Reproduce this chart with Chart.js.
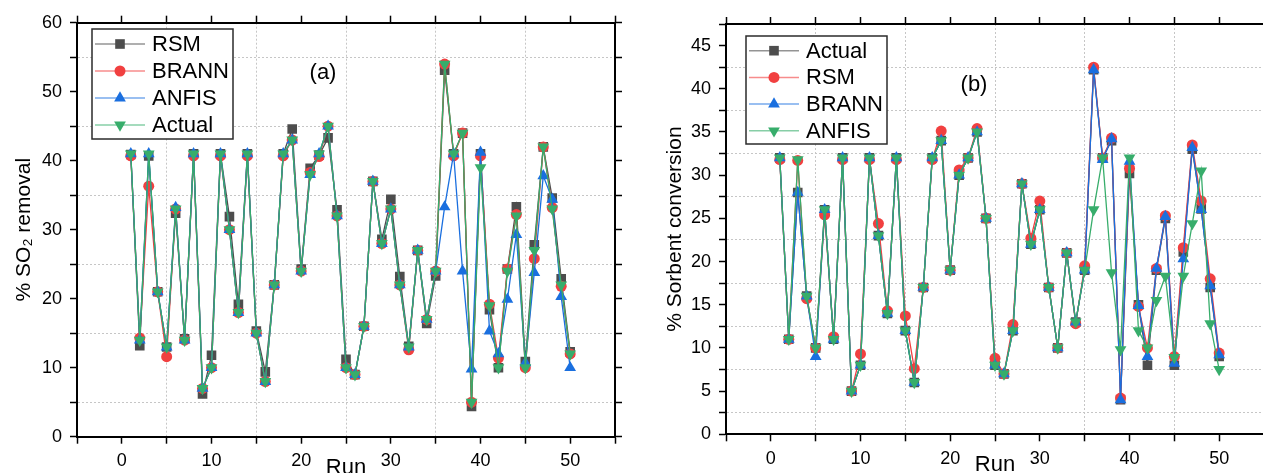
<!DOCTYPE html>
<html>
<head>
<meta charset="utf-8">
<script src="https://cdn.jsdelivr.net/npm/chart.js@4.4.0/dist/chart.umd.min.js"></script>
<style>
  html, body { margin: 0; padding: 0; background: #fff; overflow: hidden; width: 1263px; height: 473px; }
  canvas { position: absolute; top: 0; }
</style>
</head>
<body>
<canvas id="chartA" width="640" height="490" style="left:0"></canvas>
<canvas id="chartB" width="640" height="490" style="left:640px"></canvas>
<script>
const runs = [1, 2, 3, 4, 5, 6, 7, 8, 9, 10, 11, 12, 13, 14, 15, 16, 17, 18, 19, 20,
    21, 22, 23, 24, 25, 26, 27, 28, 29, 30, 31, 32, 33, 34, 35, 36, 37, 38, 39, 40,
    41, 42, 43, 44, 45, 46, 47, 48, 49, 50];

// (a) % SO2 removal
const rsmA = [40.9, 13.2, 40.7, 21, 13, 32.4, 14.2, 41, 6.2, 11.8, 41, 31.9, 19.2, 41, 15.3, 9.4, 22, 41, 44.6, 24.3,
    38.9, 40.8, 43.3, 32.9, 11.2, 9, 16, 37, 28.6, 34.4, 23.2, 13.1, 27, 16.4, 23.3, 53.1, 41, 44, 4.4, 41,
    18.4, 10, 24.3, 33.3, 10.9, 27.8, 42, 34.6, 22.9, 12.3];
const brannA = [40.7, 14.3, 36.3, 21, 11.6, 33, 14, 40.7, 7, 10, 40.7, 30, 18, 40.7, 15, 8, 22, 40.7, 43, 24,
    38.3, 40.6, 45, 32, 10, 9, 16, 37, 28, 33, 22, 12.6, 27, 17, 24, 54, 40.7, 44, 5, 40.7,
    19.2, 11.4, 24.3, 32.2, 10, 25.8, 42, 33.2, 21.8, 12];
const anfisA = [41, 14, 41, 21, 13, 33.2, 14, 41, 7, 10, 41, 30, 18, 41, 15, 8, 22, 41, 43, 24,
    38, 41, 45, 32, 10, 9, 16, 37, 28, 33, 22, 13, 27, 17, 24, 33.3, 41, 24, 9.8, 41.2,
    15.3, 12, 19.9, 29.3, 10.7, 23.8, 37.8, 34.4, 20.3, 10];
const actualA = [41, 14, 41, 21, 13, 33, 14, 41, 7, 10, 41, 30, 18, 41, 15, 8, 22, 41, 43, 24,
    38, 41, 45, 32, 10, 9, 16, 37, 28, 33, 22, 13, 27, 17, 24, 54, 41, 44, 5, 39,
    19, 10, 24, 32, 10, 27, 42, 33, 22, 12];

// (b) % Sorbent conversion
const actualB = [32, 11, 28, 16, 10, 26, 11, 32, 5, 8, 32, 23, 14, 32, 12, 6, 17, 32, 34, 19,
    30, 32, 35, 25, 8, 7, 12, 29, 22, 26, 17, 10, 21, 13, 19, 42.2, 32, 34, 4, 30.2,
    15, 8, 19, 25, 8, 21.1, 33, 26.1, 17, 9];
const rsmB = [31.8, 11, 31.7, 15.7, 10, 25.4, 11.3, 31.8, 5, 9.3, 31.8, 24.4, 14.3, 31.8, 13.7, 7.6, 17, 31.8, 35.1, 19,
    30.6, 32, 35.4, 25, 8.8, 7, 12.7, 29, 22.7, 27, 17, 10, 21, 12.8, 19.5, 42.5, 32, 34.3, 4.2, 30.8,
    14.8, 10, 19.2, 25.3, 9, 21.6, 33.5, 27, 18, 9.4];
const brannB = [32, 11, 28, 16, 9, 26, 11, 32, 5, 8, 32, 23, 14, 32, 12, 6, 17, 32, 34, 19,
    30, 32, 35, 25, 8, 7, 12, 29, 22, 26, 17, 10, 21, 13, 19, 42.2, 31.8, 34.2, 4, 31.6,
    14.9, 9, 19.2, 25.2, 8.2, 20.3, 33.2, 26, 17.2, 9.2];
const anfisB = [32, 11, 31.8, 16, 10, 26, 11, 32, 5, 8, 32, 23, 14, 32, 12, 6, 17, 32, 34, 19,
    30, 32, 35, 25, 8, 7, 12, 29, 22, 26, 17, 10, 21, 13, 19, 26, 32, 18.7, 9.8, 32,
    12, 10, 15.5, 18.3, 8.9, 18.3, 24.4, 30.5, 12.8, 7.5];

const FONT = "'Liberation Sans', Arial, sans-serif";
Chart.defaults.font.family = FONT;
Chart.defaults.color = '#000';

// gray square, red circle, blue triangle, green down-triangle (legend order = draw order)
const markers = [
    { color: '#4d4d4d', style: 'rect', radius: 6.8, rotation: 0 },
    { color: '#f14040', style: 'circle', radius: 5.5, rotation: 0 },
    { color: '#1a6fdf', style: 'triangle', radius: 6.8, rotation: 0 },
    { color: '#37ad6b', style: 'triangle', radius: 6.8, rotation: 180 }
];

function makeDataset(label, data, i) {
    const m = markers[i];
    return {
        label, data,
        borderColor: m.color, backgroundColor: m.color,
        pointBackgroundColor: m.color, pointBorderColor: m.color, pointBorderWidth: 0,
        pointStyle: m.style, pointRadius: m.radius, pointRotation: m.rotation,
        borderWidth: 1.3, tension: 0, order: 4 - i
    };
}

function isMinor(v, major, min, max) {
    return v > min && v < max && Math.abs(v / major - Math.round(v / major)) > 1e-6;
}

function axis(pos, min, max, step, major, size, main, title) {
    const horizontal = pos === 'top' || pos === 'bottom';
    return {
        type: 'linear', position: pos, min, max,
        ticks: {
            stepSize: step, autoSkip: false, maxRotation: 0, display: main,
            color: '#000', font: { size: 18 }, padding: horizontal ? 7 : 8,
            callback: v => (Math.abs(v / major - Math.round(v / major)) < 1e-6 ? String(v) : '')
        },
        grid: {
            drawOnChartArea: main,
            color: c => (c.tick && isMinor(c.tick.value, major, min, max) ? '#c6c6c6' : 'rgba(0,0,0,0)'),
            lineWidth: 1, tickColor: '#000', tickLength: 7, tickWidth: 1.5
        },
        border: { color: '#000', width: 2, dash: [2, 2] },
        title: title || { display: false },
        afterFit: s => { if (horizontal) s.height = size; else s.width = size; }
    };
}

const boxLegend = {
    id: 'boxLegend',
    afterDraw(chart, args, opts) {
        const ctx = chart.ctx;
        const b = opts.box;
        ctx.save();
        ctx.fillStyle = '#fff';
        ctx.fillRect(b.x, b.y, b.w, b.h);
        ctx.strokeStyle = '#2b2b2b';
        ctx.lineWidth = 1.5;
        ctx.strokeRect(b.x, b.y, b.w, b.h);
        chart.data.datasets.forEach((ds, i) => {
            const y = b.y + b.first + i * b.step;
            ctx.globalAlpha = 0.6;
            ctx.strokeStyle = ds.borderColor;
            ctx.lineWidth = 1.5;
            ctx.beginPath();
            ctx.moveTo(b.x + 3, y);
            ctx.lineTo(b.x + 53, y);
            ctx.stroke();
            ctx.globalAlpha = 1;
            ctx.fillStyle = ds.pointBackgroundColor;
            ctx.strokeStyle = ds.pointBackgroundColor;
            Chart.helpers.drawPoint(ctx, {
                pointStyle: ds.pointStyle, radius: ds.pointRadius,
                rotation: ds.pointRotation, borderWidth: 0
            }, b.x + 28, y);
            ctx.fillStyle = '#000';
            ctx.font = '22px ' + FONT;
            ctx.textAlign = 'left';
            ctx.textBaseline = 'middle';
            ctx.fillText(ds.label, b.x + 60, y + 1);
        });
        ctx.font = '22px ' + FONT;
        ctx.textAlign = 'center';
        ctx.textBaseline = 'middle';
        ctx.fillStyle = '#000';
        ctx.fillText(opts.tag, opts.tagX, opts.tagY);
        ctx.restore();
    }
};

function makeChart(id, names, series, yMax, yStep, yMajor, yTitle, geo) {
    return new Chart(document.getElementById(id), {
        type: 'line',
        data: {
            labels: runs,
            datasets: names.map((n, i) => makeDataset(n, series[i], i))
        },
        options: {
            responsive: false,
            animation: false,
            devicePixelRatio: 1,
            layout: { padding: 0 },
            plugins: {
                legend: { display: false },
                tooltip: { enabled: false },
                boxLegend: geo.legend
            },
            scales: {
                x: axis('bottom', -5, 55, 5, 10, geo.bottom, true, {
                    display: true, text: 'Run', color: '#000',
                    font: { size: 22 }, padding: { top: 0, bottom: geo.runPad }
                }),
                x2: axis('top', -5, 55, 5, 10, geo.top, false),
                y: axis('left', 0, yMax, yStep, yMajor, geo.left, true, {
                    display: true, text: yTitle, color: '#000',
                    font: { size: 21 }, padding: { top: geo.yPad, bottom: 0 }
                }),
                y2: axis('right', 0, yMax, yStep, yMajor, geo.right, false)
            }
        },
        plugins: [boxLegend]
    });
}

makeChart('chartA', ['RSM', 'BRANN', 'ANFIS', 'Actual'], [rsmA, brannA, anfisA, actualA],
    60, 5, 10, '% SO\u2082 removal', {
        left: 77, right: 25, top: 22.7, bottom: 53.3, runPad: 9, yPad: 12,
        legend: { box: { x: 92, y: 29, w: 141, h: 110, first: 15, step: 27 }, tag: '(a)', tagX: 323, tagY: 73 }
    });

makeChart('chartB', ['Actual', 'RSM', 'BRANN', 'ANFIS'], [actualB, rsmB, brannB, anfisB],
    47.5, 2.5, 5, '% Sorbent conversion', {
        left: 86, right: 16, top: 24, bottom: 55.7, runPad: 12, yPad: 23,
        legend: { box: { x: 106, y: 36, w: 141, h: 108, first: 14.7, step: 26.7 }, tag: '(b)', tagX: 334, tagY: 85 }
    });
</script>
</body>
</html>
